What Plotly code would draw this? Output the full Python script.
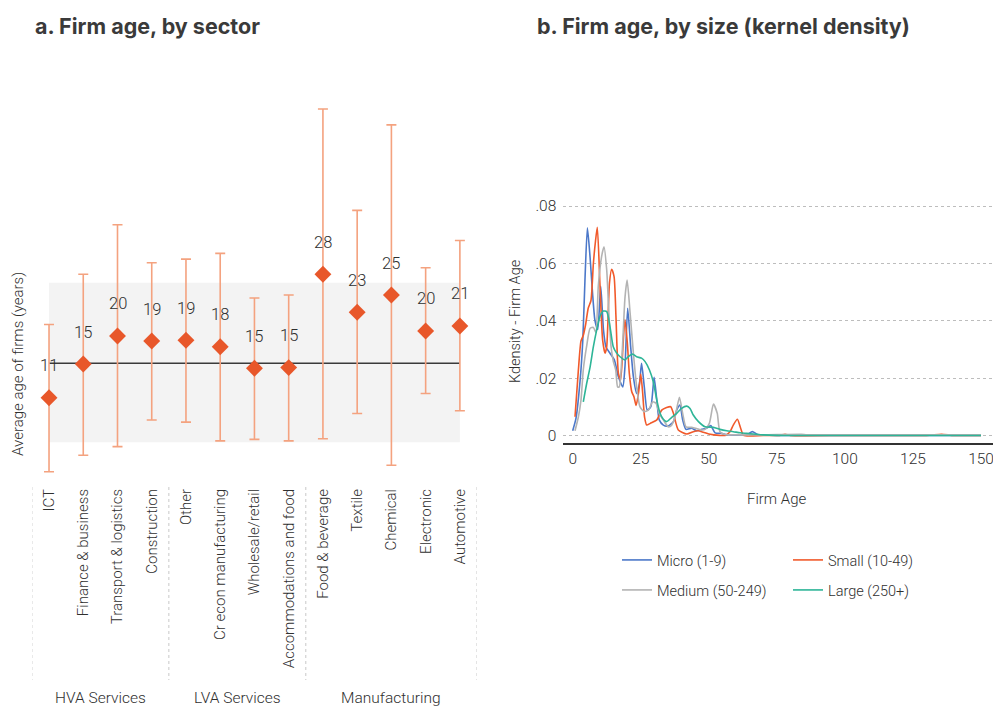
import plotly.graph_objects as go

W, H = 993, 707

# ---------------- Panel a data ----------------
sectors = ["ICT", "Finance & business", "Transport & logistics", "Construction",
           "Other", "Cr econ manufacturing", "Wholesale/retail", "Accommodations and food",
           "Food & beverage", "Textile", "Chemical", "Electronic", "Automotive"]
mean_age = [10.9, 15.6, 19.5, 18.8, 18.9, 18.0, 15.0, 15.1, 28.1, 22.8, 25.2, 20.2, 20.9]
mean_label = ["11", "15", "20", "19", "19", "18", "15", "15", "28", "23", "25", "20", "21"]
upper_age = [21.1, 28.1, 35.0, 29.7, 30.2, 31.0, 24.8, 25.2, 51.1, 37.0, 48.9, 29.0, 32.8]
lower_age = [0.6, 2.9, 4.1, 7.8, 7.5, 4.9, 5.1, 4.9, 5.2, 8.7, 1.5, 11.5, 9.1]
groups = ["HVA Services", "LVA Services", "Manufacturing"]
group_sizes = [4, 4, 5]
overall_mean = 15.7
band_low, band_high = 4.7, 26.9

# ---------------- Panel b data ----------------
micro_age = [0, 1.2, 2.7, 3.7, 4.5, 5.4, 6.4, 7.3, 8.2, 9.2, 10.3, 11.3, 12.2, 13.7, 15.3, 16.8,
             18.4, 19.2, 20.2, 21.3, 22.3, 23.5, 24.5, 25.3, 26.3, 27.4, 28.7, 29.9, 30.9, 31.8,
             33.3, 35.1, 37.0, 38.2, 39.4, 40.4, 41.6, 43.7, 45.5, 47.4, 49.2, 50.7, 52.3, 54.7,
             56.6, 60, 64, 66, 68, 72, 80, 100, 125, 150]
micro_dens = [.0017, .006, .019, .033, .054, .0724, .062, .0496, .040, .037, .052, .037, .031, .0287,
              .0264, .0205, .017, .024, .0444, .031, .0205, .0147, .018, .0252, .017, .0089, .0101,
              .0203, .0124, .0055, .0037, .0034, .0049, .0089, .0107, .0055, .0022, .0026, .0017,
              .0022, .0026, .0035, .001, .0008, .0003, .0002, .0004, .0014, .0004, .0002, .0001,
              .0001, .0001, .0001]

small_age = [0.85, 2.1, 3.05, 3.9, 4.8, 5.7, 6.7, 7.6, 8.4, 9.05, 10.0, 11.0, 11.9, 12.5, 13.5,
             14.3, 15.2, 15.9, 16.8, 17.6, 18.6, 19.2, 20.1, 20.8, 21.7, 22.5, 23.3, 24.2, 25.0,
             25.7, 26.4, 27.2, 28.5, 30.9, 32.7, 34.5, 36.0, 37.0, 38.8, 41.9, 44.3, 46, 48, 50,
             54, 56, 57.8, 59.0, 60.5, 61.7, 62.8, 70, 76, 78, 80, 100, 130, 135.5, 140, 150]
small_dens = [.0066, .023, .033, .035, .039, .0444, .047, .060, .068, .0726, .053, .0333, .0287,
              .031, .053, .058, .0554, .0414, .0217, .0194, .0333, .0405, .032, .0217, .0153,
              .0136, .0105, .015, .0215, .015, .0065, .0037, .0043, .0055, .0089, .0098, .0101,
              .0078, .002, .0006, .0014, .0017, .0012, .0006, .0001, .0001, .0014, .0037, .0057,
              .0026, .0001, .0001, .0001, .0005, .0001, .0001, .0001, .0005, .0001, .0001]

medium_age = [0.85, 2.1, 3.05, 3.9, 5.1, 6.4, 7.6, 8.5, 9.4, 10.6, 11.5, 12.5, 13.3, 14.1, 14.9,
              15.8, 16.5, 17.1, 18.0, 18.6, 19.2, 20.0, 21.1, 22.3, 23.5, 24.7, 26.2, 27.8, 29.4,
              30.6, 31.8, 33.3, 35.1, 36.3, 37.6, 39.2, 40.4, 41.6, 43.7, 45.5, 47.4, 48.6, 50.2,
              51.7, 53.1, 54.1, 56, 60, 70, 84, 86, 100, 125, 150]
medium_dens = [.0017, .0066, .0124, .023, .031, .0374, .0377, .036, .052, .0623, .0658, .0577,
               .0426, .031, .026, .0229, .017, .017, .026, .0368, .048, .0542, .0426, .0287, .017,
               .0101, .0084, .0089, .0118, .0113, .0078, .0055, .0031, .0036, .0066, .0134, .0078,
               .0031, .0029, .0025, .002, .0022, .0043, .011, .0078, .0014, .0004, .0003, .0003,
               .0005, .0003, .0003, .0003, .0003]

large_age = [3.9, 5.1, 6.4, 7.6, 8.8, 10.0, 11.2, 12.5, 13.7, 14.9, 16.2, 17.4, 19.2, 20.4, 22.0,
             23.5, 25.3, 26.6, 28.2, 29.6, 30.9, 32.1, 33.3, 34.5, 36.4, 38.2, 40.0, 41.9, 43.1,
             44.3, 46.2, 48.6, 51.7, 54.1, 56.6, 59.0, 61.5, 64, 66.4, 70, 75, 80, 100, 125, 150]
large_dens = [.0118, .018, .024, .031, .0368, .0415, .0434, .0432, .038, .031, .0287, .0275,
              .0264, .0275, .0284, .0275, .027, .0258, .0229, .0188, .0124, .0078, .0057, .0049,
              .0064, .0078, .0095, .0103, .0095, .0072, .0049, .0031, .0029, .0022, .0017, .0014,
              .001, .0008, .0006, .0003, .0001, .00005, .00005, .00005, .00005]

size_names = ["Micro (1-9)", "Small (10-49)", "Medium (50-249)", "Large (250+)"]
density_x = [micro_age, small_age, medium_age, large_age]
density_y = [micro_dens, small_dens, medium_dens, large_dens]
size_colors = ["#4C78C9", "#F15A2B", "#B3B3B3", "#2DB597"]
size_legend = ["legend", "legend", "legend2", "legend2"]

age_ticks = [0, 25, 50, 75, 100, 125, 150]
dens_ticks = [0, 0.02, 0.04, 0.06, 0.08]
dens_ticktext = ["0", ".02", ".04", ".06", ".08"]

# ---------------- Styling ----------------
NARROW = "Roboto, Lato, sans-serif"
TITLE = "Inter, Open Sans, sans-serif"
TXT = "#2f2f2f"
MARK = "#E8572A"
ERR = "#F4A27F"


def px_x(p):
    return p / W


def px_y(p):
    return 1 - p / H


def tfont(size):
    return dict(family=NARROW, size=size, color=TXT, weight=300)


fig = go.Figure()

# Panel a
fig.add_trace(go.Scatter(
    x=sectors, y=mean_age, mode="markers", xaxis="x", yaxis="y",
    marker=dict(symbol="diamond", size=13, color=MARK),
    error_y=dict(type="data", symmetric=False,
                 array=[u - m for u, m in zip(upper_age, mean_age)],
                 arrayminus=[m - l for m, l in zip(mean_age, lower_age)],
                 color=ERR, thickness=1.6, width=5),
    showlegend=False, hoverinfo="skip"))

for i, (m, lab) in enumerate(zip(mean_age, mean_label)):
    fig.add_annotation(x=i, y=m, xref="x", yref="y", text=lab, showarrow=False,
                       xanchor="center", yanchor="middle", yshift=32, font=tfont(16.5))

n = len(sectors)
fig.add_shape(type="rect", xref="x", yref="y", x0=0, x1=n - 1, y0=band_low, y1=band_high,
              fillcolor="#F3F3F3", line=dict(width=0), layer="below")
fig.add_shape(type="line", xref="x", yref="y", x0=0, x1=n - 1, y0=overall_mean, y1=overall_mean,
              line=dict(color="#3a3a3a", width=1.6), layer="below")

# group separators & labels
start = 0
bounds = [-0.5]
for g, sz in zip(groups, group_sizes):
    centre = start + (sz - 1) / 2
    fig.add_annotation(x=centre, y=px_y(698), xref="x", yref="paper", text=g, showarrow=False,
                       xanchor="center", yanchor="middle", font=tfont(15.5))
    start += sz
    bounds.append(start - 0.5)
for b in bounds:
    fig.add_shape(type="line", xref="x", yref="paper", x0=b, x1=b, y0=px_y(487), y1=px_y(680),
                  line=dict(color="#C8C8C8", width=1, dash="dot"))

fig.add_annotation(x=px_x(18), y=px_y(364), xref="paper", yref="paper",
                   text="Average age of firms (years)", textangle=-90, showarrow=False,
                   xanchor="center", yanchor="middle", font=tfont(15))

# Panel b
for name, xs, ys, col, lg in zip(size_names, density_x, density_y, size_colors, size_legend):
    fig.add_trace(go.Scatter(x=xs, y=ys, mode="lines", name=name, xaxis="x2", yaxis="y2",
                             line=dict(color=col, width=1.6, shape="spline", smoothing=0.6),
                             legend=lg, hoverinfo="skip"))

fig.add_annotation(x=px_x(515), y=px_y(322), xref="paper", yref="paper",
                   text="Kdensity - Firm Age", textangle=-90, showarrow=False,
                   xanchor="center", yanchor="middle", font=tfont(14.5))
fig.add_annotation(x=px_x(777), y=px_y(499), xref="paper", yref="paper",
                   text="Firm Age", showarrow=False,
                   xanchor="center", yanchor="middle", font=tfont(15))

# Titles
fig.add_annotation(x=px_x(33), y=px_y(26), xref="paper", yref="paper", xanchor="left",
                   yanchor="middle", text="<b>a. Firm age, by sector</b>", showarrow=False,
                   font=dict(family=TITLE, size=21.5, color="#3a3a3a"))
fig.add_annotation(x=px_x(535), y=px_y(26), xref="paper", yref="paper", xanchor="left",
                   yanchor="middle", text="<b>b. Firm age, by size (kernel density)</b>",
                   showarrow=False, font=dict(family=TITLE, size=21.5, color="#3a3a3a"))

legend_common = dict(orientation="h", xanchor="left", yanchor="middle",
                     font=tfont(14.5),
                     bgcolor="rgba(0,0,0,0)", entrywidth=126, entrywidthmode="pixels",
                     itemwidth=30)

fig.update_layout(
    width=W, height=H, template="none",
    paper_bgcolor="white", plot_bgcolor="white",
    margin=dict(l=0, r=0, t=0, b=0),
    xaxis=dict(domain=[px_x(31.9), px_x(477)], type="category", range=[-0.5, n - 0.5],
               showgrid=False, zeroline=False, showline=False, ticks="",
               tickangle=-90, tickfont=tfont(15)),
    yaxis=dict(domain=[px_y(485), px_y(95)], range=[-1.25, 53.06], visible=False),
    xaxis2=dict(domain=[px_x(563.3), 1.0], range=[-3.45, 154.4], anchor="y2",
                tickvals=age_ticks, showgrid=False, zeroline=False,
                showline=True, linecolor="#333333", linewidth=2, ticks="",
                ticklabeloverflow="allow", tickfont=tfont(15.5)),
    yaxis2=dict(domain=[px_y(443.3), px_y(200)], range=[-0.00265, 0.0821], anchor="x2",
                tickvals=dens_ticks, ticktext=dens_ticktext, showgrid=True,
                gridcolor="#BDBDBD", griddash="dot", gridwidth=1, zeroline=False,
                showline=False, ticks="", ticklabelstandoff=6,
                tickfont=tfont(15.5)),
    legend=dict(x=px_x(617), y=px_y(560), **legend_common),
    legend2=dict(x=px_x(617), y=px_y(590), **legend_common),
)

fig.write_html("out.html", config={"displayModeBar": False},
               post_script="document.body.style.margin='0';document.body.style.overflow='hidden';")
